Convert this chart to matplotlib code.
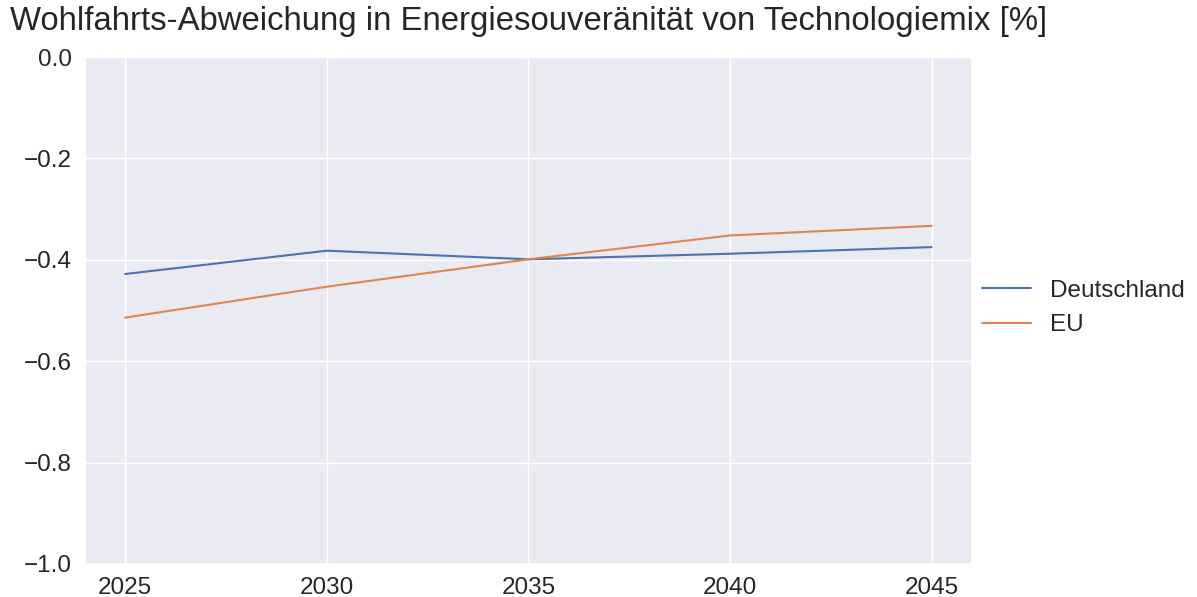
import matplotlib.pyplot as plt
import seaborn as sns

years = [2025, 2030, 2035, 2040, 2045]
deutschland = [-0.428, -0.382, -0.399, -0.388, -0.375]
eu = [-0.514, -0.453, -0.399, -0.352, -0.333]

sns.set_theme(style='darkgrid')
plt.rcParams['font.family'] = ['Liberation Sans', 'DejaVu Sans']

fig = plt.figure(figsize=(11.97, 5.97), dpi=100)
ax = fig.add_axes([0.071, 0.0553, 0.741, 0.8492])

ax.plot(years, deutschland, label='Deutschland', linewidth=1.5)
ax.plot(years, eu, label='EU', linewidth=1.5)

ax.set_ylim(-1.0, 0.0)
ax.set_xticks(years)
ax.tick_params(labelsize=17.5)
ax.legend(loc='center left', bbox_to_anchor=(0.987, 0.505), frameon=False, fontsize=17.5)

fig.text(0.008, 0.99, 'Wohlfahrts-Abweichung in Energiesouveränität von Technologiemix [%]',
         ha='left', va='top', fontsize=23.7)

fig.savefig('out.png', dpi=100)
